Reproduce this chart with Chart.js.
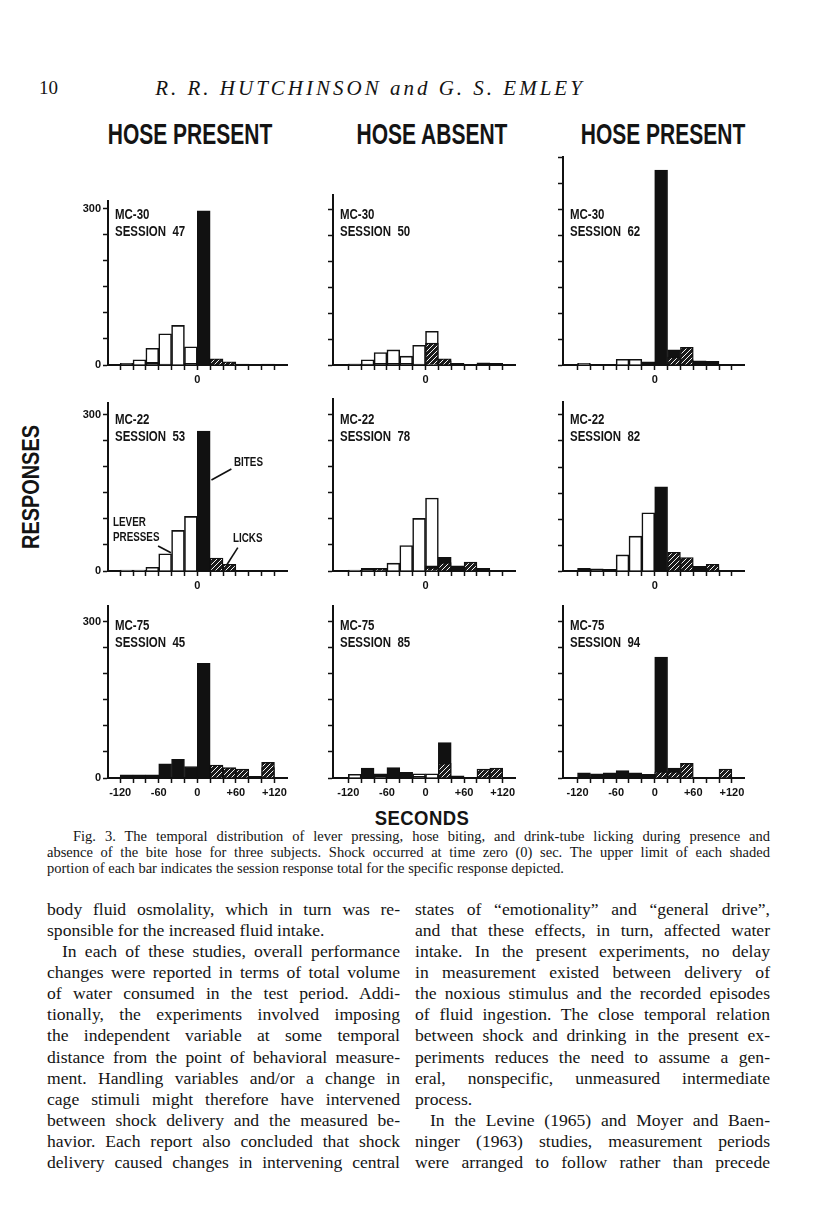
<!DOCTYPE html>
<html><head><meta charset="utf-8">
<script src="https://cdn.jsdelivr.net/npm/chart.js@4.4.1/dist/chart.umd.min.js"></script>
<style>
html,body{margin:0;padding:0;background:#fff;}
#page{position:relative;width:816px;height:1207px;overflow:hidden;background:#fff;color:#141414;}
.abs{position:absolute;white-space:nowrap;}
.serif{font-family:"Liberation Serif","Times New Roman",serif;}
.sans{font-family:"Liberation Sans",Arial,sans-serif;font-weight:bold;}
.line{position:absolute;text-align:justify;text-align-last:justify;font-family:"Liberation Serif","Times New Roman",serif;}
.line.last{text-align-last:left;}
.lab{position:absolute;white-space:pre;font-family:"Liberation Sans",Arial,sans-serif;font-weight:bold;transform-origin:0 0;transform:scaleX(0.82);z-index:5;}
</style></head>
<body><div id="page"></div>
<script>
// ---------------- DATA ----------------
const BIN_CENTERS = [-110,-90,-70,-50,-30,-10,10,30,50,70,90,110];
const X_TICKS = [-120,-100,-80,-60,-40,-20,0,20,40,60,80,100,120];
const X_LABELS_UPPER = {"0":"0"};
const X_LABELS_LOWER = {"-120":"-120","-60":"-60","0":"0","60":"+60","120":"+120"};
const Y_LABELS = {"0":"0","300":"300"};
const COLUMN_TITLES = ["HOSE PRESENT","HOSE ABSENT","HOSE PRESENT"];

// MC-30 session 47
const lever_mc30_s47 = [3,10,32,60,76,35,0,0,0,0,0,0];
const bites_mc30_s47 = [2,0,5,2,0,3,296,0,0,2,0,2];
const licks_mc30_s47 = [0,0,0,0,0,0,0,12,6,0,0,0];
// MC-30 session 50
const lever_mc30_s50 = [2,10,24,29,17,38,65,0,0,0,0,0];
const bites_mc30_s50 = [2,2,3,3,3,2,0,8,3,0,4,3];
const licks_mc30_s50 = [0,0,0,0,0,0,42,12,0,0,0,0];
// MC-30 session 62
const lever_mc30_s62 = [3,0,0,11,11,0,0,0,0,0,0,0];
const bites_mc30_s62 = [0,0,0,0,0,6,375,29,10,8,7,0];
const licks_mc30_s62 = [0,0,0,0,0,0,0,15,34,0,0,0];
// MC-22 session 53
const lever_mc22_s53 = [2,2,7,33,78,105,0,0,0,0,0,0];
const bites_mc22_s53 = [0,0,0,0,0,0,269,0,0,0,0,0];
const licks_mc22_s53 = [0,0,0,0,0,0,0,25,13,0,0,0];
// MC-22 session 78
const lever_mc22_s78 = [2,5,5,15,49,101,140,0,0,0,0,0];
const bites_mc22_s78 = [0,5,3,0,0,0,10,26,10,9,5,0];
const licks_mc22_s78 = [0,0,4,0,0,0,6,16,0,17,0,0];
// MC-22 session 82
const lever_mc22_s82 = [0,4,0,31,67,112,0,0,0,0,0,0];
const bites_mc22_s82 = [5,3,3,0,0,0,162,20,10,9,8,0];
const licks_mc22_s82 = [0,0,0,0,0,0,0,36,26,0,13,0];
// MC-75 session 45
const lever_mc75_s45 = [0,0,0,0,0,0,0,0,0,0,0,0];
const bites_mc75_s45 = [6,6,6,27,36,22,220,20,12,10,3,20];
const licks_mc75_s45 = [0,0,0,0,0,0,0,25,20,17,0,30];
// MC-75 session 85
const lever_mc75_s85 = [7,0,8,0,0,8,8,0,0,0,0,0];
const bites_mc75_s85 = [0,19,5,20,11,3,0,68,4,0,0,0];
const licks_mc75_s85 = [0,0,0,0,0,0,0,28,0,0,17,19];
// MC-75 session 94
const lever_mc75_s94 = [0,0,0,0,0,0,0,0,0,0,0,0];
const bites_mc75_s94 = [10,8,10,14,10,7,232,19,0,0,0,0];
const licks_mc75_s94 = [0,0,0,0,0,0,12,12,28,0,0,17];

const PANELS = [
 {subject:"MC-30",session:"SESSION  47",lever:lever_mc30_s47,bites:bites_mc30_s47,licks:licks_mc30_s47,col:0,row:0,yMax:315},
 {subject:"MC-30",session:"SESSION  50",lever:lever_mc30_s50,bites:bites_mc30_s50,licks:licks_mc30_s50,col:1,row:0,yMax:327},
 {subject:"MC-30",session:"SESSION  62",lever:lever_mc30_s62,bites:bites_mc30_s62,licks:licks_mc30_s62,col:2,row:0,yMax:400},
 {subject:"MC-22",session:"SESSION  53",lever:lever_mc22_s53,bites:bites_mc22_s53,licks:licks_mc22_s53,col:0,row:1,yMax:323},
 {subject:"MC-22",session:"SESSION  78",lever:lever_mc22_s78,bites:bites_mc22_s78,licks:licks_mc22_s78,col:1,row:1,yMax:330},
 {subject:"MC-22",session:"SESSION  82",lever:lever_mc22_s82,bites:bites_mc22_s82,licks:licks_mc22_s82,col:2,row:1,yMax:325},
 {subject:"MC-75",session:"SESSION  45",lever:lever_mc75_s45,bites:bites_mc75_s45,licks:licks_mc75_s45,col:0,row:2,yMax:330},
 {subject:"MC-75",session:"SESSION  85",lever:lever_mc75_s85,bites:bites_mc75_s85,licks:licks_mc75_s85,col:1,row:2,yMax:330},
 {subject:"MC-75",session:"SESSION  94",lever:lever_mc75_s94,bites:bites_mc75_s94,licks:licks_mc75_s94,col:2,row:2,yMax:330}
];

// ---------------- LAYOUT ----------------
const COL_AXIS_X = [107.5, 333, 563];
const COL_ZERO_X = [196.8, 425.5, 654.7];
const ROW_ZERO_Y = [364.5, 571.2, 778];
const PX_PER_S = 0.643, PX_PER_UNIT = 0.52;
const page = document.getElementById('page');

function addText(txt, cls, style){
  const d=document.createElement('div'); d.className=cls; d.textContent=txt;
  Object.assign(d.style, style); page.appendChild(d); return d;
}

// header
addText("10","abs serif",{left:"39px",top:"77px",fontSize:"19px"});
addText("R. R. HUTCHINSON and G. S. EMLEY","abs serif",{left:"120px",width:"500px",textAlign:"center",top:"76px",fontSize:"21px",fontStyle:"italic",letterSpacing:"3px"});
// column titles
const TITLE_CX=[190,431.5,662.5];
COLUMN_TITLES.forEach((t,i)=>addText(t,"abs sans",{left:(TITLE_CX[i]-150)+"px",width:"300px",textAlign:"center",top:"116px",fontSize:"30px",lineHeight:"36px",transform:"scaleX(0.7)",transformOrigin:"50% 50%"}));
// responses / seconds
addText("RESPONSES","abs sans",{left:(31-100)+"px",top:(487-15)+"px",width:"200px",height:"30px",lineHeight:"30px",textAlign:"center",fontSize:"24px",transform:"rotate(-90deg) scaleX(0.83)",transformOrigin:"50% 50%"});
addText("SECONDS","abs sans",{left:(422-100)+"px",top:(818-13)+"px",width:"200px",lineHeight:"26px",textAlign:"center",fontSize:"21px",letterSpacing:"0.5px",transform:"scaleX(0.88)",transformOrigin:"50% 50%"});

// caption
const CAPTION = [
 ["Fig. 3. The temporal distribution of lever pressing, hose biting, and drink-tube licking during presence and",73,697,false],
 ["absence of the bite hose for three subjects. Shock occurred at time zero (0) sec. The upper limit of each shaded",47,723,false],
 ["portion of each bar indicates the session response total for the specific response depicted.",47,723,true]
];
CAPTION.forEach((c,i)=>addText(c[0],"line"+(c[3]?" last":""),{left:c[1]+"px",width:c[2]+"px",top:(836+i*16-8)+"px",fontSize:"14.5px",lineHeight:"16px"}));

// body text
const LEFT_COL = [
 ["body fluid osmolality, which in turn was re-",0,false],
 ["sponsible for the increased fluid intake.",0,true],
 ["In each of these studies, overall performance",15,false],
 ["changes were reported in terms of total volume",0,false],
 ["of water consumed in the test period. Addi-",0,false],
 ["tionally, the experiments involved imposing",0,false],
 ["the independent variable at some temporal",0,false],
 ["distance from the point of behavioral measure-",0,false],
 ["ment. Handling variables and/or a change in",0,false],
 ["cage stimuli might therefore have intervened",0,false],
 ["between shock delivery and the measured be-",0,false],
 ["havior. Each report also concluded that shock",0,false],
 ["delivery caused changes in intervening central",0,false]
];
const RIGHT_COL = [
 ["states of \u201cemotionality\u201d and \u201cgeneral drive\u201d,",0,false],
 ["and that these effects, in turn, affected water",0,false],
 ["intake. In the present experiments, no delay",0,false],
 ["in measurement existed between delivery of",0,false],
 ["the noxious stimulus and the recorded episodes",0,false],
 ["of fluid ingestion. The close temporal relation",0,false],
 ["between shock and drinking in the present ex-",0,false],
 ["periments reduces the need to assume a gen-",0,false],
 ["eral, nonspecific, unmeasured intermediate",0,false],
 ["process.",0,true],
 ["In the Levine (1965) and Moyer and Baen-",15,false],
 ["ninger (1963) studies, measurement periods",0,false],
 ["were arranged to follow rather than precede",0,false]
];
function addCol(lines,x,w){
  lines.forEach((l,i)=>addText(l[0],"line"+(l[2]?" last":""),{left:(x+l[1])+"px",width:(w-l[1])+"px",top:(909+i*21.08-11)+"px",fontSize:"17.6px",lineHeight:"22px"}));
}
addCol(LEFT_COL,47,353);
addCol(RIGHT_COL,415,355);

// ---------------- CHARTS ----------------
const TICK_FONT = {family:"'Liberation Sans Narrow','Liberation Sans',Arial,sans-serif",size:11,weight:"bold"};

const leaderPlugin = {
  id:'leaders',
  afterDatasetsDraw(chart,args,opts){
    if(!opts || !opts.lines) return;
    const {ctx,scales:{x,y}} = chart;
    ctx.save(); ctx.strokeStyle='#111'; ctx.lineWidth=1.6;
    opts.lines.forEach(l=>{ctx.beginPath();ctx.moveTo(x.getPixelForValue(l[0]),y.getPixelForValue(l[1]));ctx.lineTo(x.getPixelForValue(l[2]),y.getPixelForValue(l[3]));ctx.stroke();});
    ctx.restore();
  }
};
Chart.register(leaderPlugin);

function hatch(ctx){
  const c=document.createElement('canvas'); c.width=5; c.height=5;
  const g=c.getContext('2d'); g.fillStyle='#1b1b1b'; g.fillRect(0,0,5,5);
  g.strokeStyle='#f4f4f4'; g.lineWidth=1;
  g.beginPath(); g.moveTo(0,5); g.lineTo(5,0); g.moveTo(-1,1); g.lineTo(1,-1); g.moveTo(4,6); g.lineTo(6,4); g.stroke();
  return ctx.createPattern(c,'repeat');
}

function pts(arr){ return BIN_CENTERS.map((x,i)=>({x:x,y:arr[i]>0?arr[i]:null})); }

function buildPanel(p, idx){
  const YW=36, T=4, XH=26, R=8;
  const axisX=COL_AXIS_X[p.col], zeroX=COL_ZERO_X[p.col], zeroY=ROW_ZERO_Y[p.row];
  const xMin=-(zeroX-axisX)/PX_PER_S, xMax=140;
  const plotW=(xMax-xMin)*PX_PER_S, plotH=Math.round(p.yMax*PX_PER_UNIT);
  const left=Math.round(axisX)-YW, top=Math.round(zeroY)-plotH-T;
  const W=Math.round(YW+plotW+R), H=T+plotH+XH;
  const cv=document.createElement('canvas'); cv.width=W; cv.height=H;
  cv.style.position='absolute'; cv.style.left=left+'px'; cv.style.top=top+'px';
  page.appendChild(cv);
  const ctx=cv.getContext('2d');
  const xLabels = p.row===2 ? X_LABELS_LOWER : X_LABELS_UPPER;
  const yTicks=[]; for(let v=0; v<=p.yMax; v+=50) yTicks.push(v);
  new Chart(ctx,{
    type:'bar',
    data:{datasets:[
      {label:'Lever presses',data:pts(p.lever),backgroundColor:'#ffffff',borderColor:'#111',borderWidth:1.6,order:3},
      {label:'Bites',data:pts(p.bites),backgroundColor:'#111',borderColor:'#111',borderWidth:1,order:2},
      {label:'Licks',data:pts(p.licks),backgroundColor:hatch(ctx),borderColor:'#111',borderWidth:1.4,order:1}
    ]},
    options:{
      responsive:false, animation:false, devicePixelRatio:1,
      layout:{padding:{left:0,top:T,right:W-YW-plotW,bottom:0}},
      datasets:{bar:{grouped:false,barPercentage:1,categoryPercentage:1}},
      plugins:{legend:{display:false},tooltip:{enabled:false},
        leaders:{lines: idx===3 ? [[22,175,53,196],[-61,48,-41,35],[45,10,63,45]] : null}},
      scales:{
        x:{type:'linear',min:xMin,max:xMax,offset:false,
          grid:{display:true,offset:false,drawOnChartArea:false,drawTicks:true,tickLength:5,tickWidth:1.5,tickColor:'#111'},
          border:{display:true,color:'#111',width:2},
          ticks:{autoSkip:false,maxRotation:0,minRotation:0,padding:3,color:'#111',font:TICK_FONT,
            callback:(v)=> (xLabels[String(v)]!==undefined ? xLabels[String(v)] : '')},
          afterBuildTicks:(s)=>{ s.ticks = X_TICKS.map(v=>({value:v})); },
          afterFit:(s)=>{ s.height=XH; s.paddingLeft=0; s.paddingRight=0; }
        },
        y:{type:'linear',min:0,max:p.yMax,
          grid:{display:true,drawOnChartArea:false,drawTicks:true,tickLength:5,tickWidth:1.5,tickColor:'#111'},
          border:{display:true,color:'#111',width:2},
          ticks:{autoSkip:false,padding:2,color:'#111',font:TICK_FONT,
            callback:(v)=> (p.col===0 && Y_LABELS[String(v)]!==undefined ? Y_LABELS[String(v)] : '')},
          afterBuildTicks:(s)=>{ s.ticks = yTicks.map(v=>({value:v})); },
          afterFit:(s)=>{ s.width=YW; s.paddingTop=0; s.paddingBottom=0; }
        }
      }
    }
  });
  // panel labels (text)
  const labTop = zeroY - (p.row===0 ? 159 : (p.row===1 ? 160 : 161));
  addText(p.subject,"lab",{left:(axisX+7)+"px",top:labTop+"px",fontSize:"14px",lineHeight:"16px"});
  addText(p.session,"lab",{left:(axisX+7)+"px",top:(labTop+17)+"px",fontSize:"14px",lineHeight:"16px"});
}
PANELS.forEach((p,i)=>buildPanel(p,i));

// annotations for MC-22 session 53
addText("BITES","lab",{left:"234px",top:"455px",fontSize:"12px",lineHeight:"14px"});
addText("LEVER","lab",{left:"113px",top:"515px",fontSize:"12px",lineHeight:"14px"});
addText("PRESSES","lab",{left:"113px",top:"530px",fontSize:"12px",lineHeight:"14px"});
addText("LICKS","lab",{left:"233px",top:"531px",fontSize:"12px",lineHeight:"14px"});
</script>
</body></html>
